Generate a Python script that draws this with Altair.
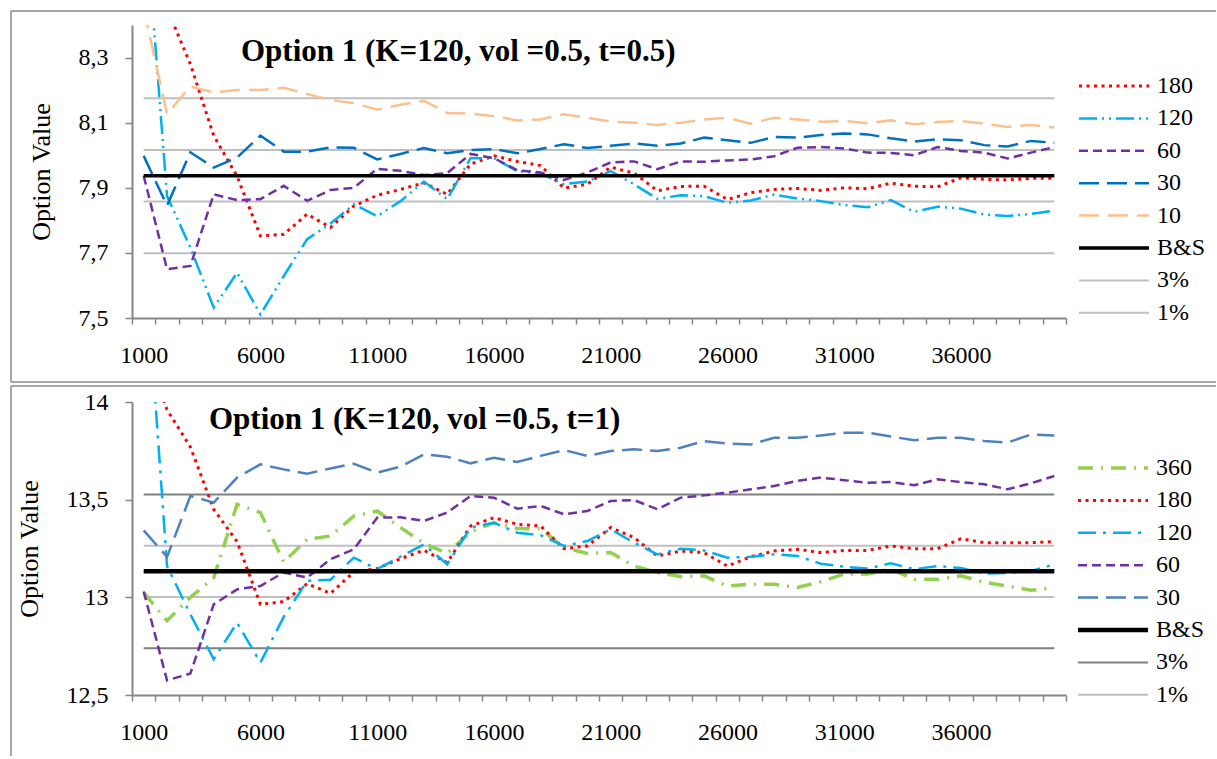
import altair as alt
import pandas as pd

# Number of simulations (x categories)
N = [1000 * k for k in range(1, 41)]

FONT = "Liberation Serif"

# ---------------- Option 1 (K=120, vol=0.5, t=0.5) ----------------
top_series = ["180", "120", "60", "30", "10", "B&S", "3%", "1%"]
top_colors = ["#FF0000", "#00B0F0", "#7030A0", "#0070C0", "#FAC090", "#000000", "#BFBFBF", "#BFBFBF"]
top_dashes = [[3, 4.5], [18, 5, 2, 5, 2, 5], [9, 5], [20, 8], [20, 9], [1, 0], [1, 0], [1, 0]]
top_widths = [3, 2.5, 2.5, 2.5, 2.5, 3.5, 2, 2]

top_180 = [8.75, 8.45, 8.28, 8.06, 7.935, 7.752, 7.757, 7.819, 7.778, 7.844,
           7.877, 7.895, 7.915, 7.88, 7.973, 7.998, 7.981, 7.968, 7.899, 7.911,
           7.963, 7.945, 7.891, 7.904, 7.905, 7.864, 7.885, 7.895, 7.898, 7.892,
           7.9, 7.897, 7.914, 7.905, 7.903, 7.931, 7.926, 7.924, 7.929, 7.929]
top_120 = [8.8, 7.875, 7.716, 7.532, 7.639, 7.511, 7.629, 7.742, 7.79, 7.849,
           7.813, 7.859, 7.919, 7.865, 7.991, 7.991, 7.951, 7.944, 7.911, 7.919,
           7.951, 7.911, 7.866, 7.877, 7.874, 7.854, 7.861, 7.879, 7.867, 7.859,
           7.847, 7.84, 7.862, 7.826, 7.842, 7.836, 7.818, 7.813, 7.82, 7.83]
top_60 = [7.937, 7.65, 7.66, 7.88, 7.862, 7.865, 7.906, 7.86, 7.893, 7.9,
          7.958, 7.952, 7.939, 7.945, 8.004, 7.991, 7.954, 7.947, 7.924, 7.947,
          7.978, 7.981, 7.957, 7.981, 7.98, 7.984, 7.987, 7.997, 8.023, 8.025,
          8.021, 8.008, 8.007, 8.0, 8.025, 8.013, 8.008, 7.99, 8.008, 8.025]
top_30 = [7.998, 7.845, 8.009, 7.962, 7.993, 8.06, 8.011, 8.011, 8.024, 8.023,
          7.987, 8.004, 8.022, 8.006, 8.016, 8.019, 8.006, 8.019, 8.034, 8.022,
          8.029, 8.036, 8.029, 8.036, 8.054, 8.046, 8.038, 8.056, 8.054, 8.062,
          8.067, 8.064, 8.052, 8.042, 8.049, 8.046, 8.031, 8.027, 8.044, 8.038]
top_10 = [8.45, 8.127, 8.211, 8.193, 8.2, 8.2, 8.207, 8.188, 8.17, 8.16,
          8.14, 8.155, 8.167, 8.13, 8.128, 8.12, 8.107, 8.11, 8.126, 8.115,
          8.103, 8.1, 8.093, 8.1, 8.11, 8.115, 8.097, 8.115, 8.11, 8.103,
          8.105, 8.098, 8.107, 8.095, 8.102, 8.105, 8.097, 8.087, 8.093, 8.085]
top_bs = 7.937

# ---------------- Option 1 (K=120, vol=0.5, t=1) ----------------
bot_series = ["360", "180", "120", "60", "30", "B&S", "3%", "1%"]
bot_colors = ["#92D050", "#FF0000", "#00B0F0", "#7030A0", "#4F81BD", "#000000", "#808080", "#C0C0C0"]
bot_dashes = [[15, 8, 2, 8], [3, 4.5], [18, 7, 3, 7], [9, 5], [20, 8], [1, 0], [1, 0], [1, 0]]
bot_widths = [3.5, 3, 2.5, 2.5, 2.5, 4.5, 2, 2]

bot_360 = [13.024, 12.88, 13.0, 13.1, 13.476, 13.434, 13.18, 13.297, 13.314, 13.416,
           13.442, 13.357, 13.277, 13.225, 13.335, 13.382, 13.352, 13.351, 13.254, 13.225,
           13.229, 13.16, 13.127, 13.106, 13.11, 13.058, 13.067, 13.067, 13.05, 13.08,
           13.12, 13.12, 13.145, 13.092, 13.092, 13.11, 13.077, 13.058, 13.036, 13.05]
bot_180 = [14.3, 13.96, 13.77, 13.45, 13.285, 12.964, 12.978, 13.07, 13.02, 13.13,
           13.147, 13.198, 13.241, 13.178, 13.365, 13.408, 13.374, 13.365, 13.249, 13.263,
           13.357, 13.306, 13.212, 13.237, 13.229, 13.16, 13.208, 13.237, 13.246, 13.229,
           13.24, 13.24, 13.263, 13.249, 13.249, 13.3, 13.28, 13.28, 13.28, 13.285]
bot_120 = [14.85, 13.16, 12.913, 12.683, 12.87, 12.666, 12.9, 13.084, 13.09, 13.203,
           13.144, 13.208, 13.271, 13.169, 13.357, 13.382, 13.331, 13.318, 13.263, 13.288,
           13.348, 13.28, 13.22, 13.249, 13.24, 13.203, 13.208, 13.22, 13.212, 13.172,
           13.157, 13.147, 13.174, 13.144, 13.16, 13.15, 13.122, 13.125, 13.135, 13.169]
bot_60 = [13.03, 12.575, 12.61, 12.964, 13.041, 13.058, 13.127, 13.101, 13.195, 13.246,
          13.408, 13.41, 13.391, 13.434, 13.519, 13.51, 13.454, 13.468, 13.425, 13.442,
          13.493, 13.498, 13.451, 13.51, 13.522, 13.536, 13.553, 13.57, 13.596, 13.613,
          13.6, 13.587, 13.59, 13.574, 13.604, 13.59, 13.579, 13.553, 13.584, 13.621]
bot_30 = [13.343, 13.207, 13.519, 13.485, 13.613, 13.681, 13.655, 13.633, 13.66, 13.684,
          13.638, 13.669, 13.732, 13.72, 13.686, 13.715, 13.693, 13.724, 13.754, 13.724,
          13.749, 13.758, 13.749, 13.766, 13.8, 13.788, 13.783, 13.817, 13.817, 13.829,
          13.843, 13.843, 13.823, 13.804, 13.817, 13.817, 13.8, 13.792, 13.834, 13.829]
bot_bs = 13.133


def long_frame(named, bs):
    rows = []
    for name, vals in named:
        for n, v in zip(N, vals):
            rows.append({"n": n, "value": v, "series": name, "part": name})
    for n in N:
        rows.append({"n": n, "value": bs, "series": "B&S", "part": "B&S"})
    # +/- 3 % and 1 % bands around the Black & Scholes price
    for name, pct in (("3%", 0.03), ("1%", 0.01)):
        for sign, tag in ((1, "+"), (-1, "-")):
            for n in N:
                rows.append({"n": n, "value": bs * (1 + sign * pct), "series": name, "part": name + tag})
    return pd.DataFrame(rows)


top_df = long_frame([("180", top_180), ("120", top_120), ("60", top_60),
                     ("30", top_30), ("10", top_10)], top_bs)
bot_df = long_frame([("360", bot_360), ("180", bot_180), ("120", bot_120),
                     ("60", bot_60), ("30", bot_30)], bot_bs)

PLOT_W = 934
PLOT_H = 293
AXIS_GREY = "#868686"
FRAME_GREY = "#8A8A8A"


def panel(df, series, colors, dashes, widths, y_domain, y_values, y_fmt,
          title_text, title_pos, legend_pos, frame_top, frame_bottom, left_end):
    x_axis = alt.Axis(
        values=[500 + 1000 * k for k in range(41)],
        labelExpr="(datum.value - 500) % 5000 == 0 && datum.value < 40000 ? format(datum.value + 500, 'd') : ''",
        labelOffset=PLOT_W / 80,
        labelFlush=False, labelOverlap=False, labelBound=False,
        tickSize=6, labelPadding=19, title=None, grid=False,
        labelFont=FONT, labelFontSize=24, labelColor="black",
    )
    y_axis = alt.Axis(
        values=y_values, format=y_fmt,
        labelExpr="replace(datum.label, '.', ',')",
        tickSize=7, labelPadding=17, grid=False,
        labelFont=FONT, labelFontSize=24, labelColor="black",
        title="Option Value", titleFont=FONT, titleFontSize=26,
        titleFontWeight="normal", titleColor="black", titlePadding=24,
    )
    legend = alt.Legend(
        title=None, orient="none", legendX=legend_pos[0], legendY=legend_pos[1],
        symbolType="M-1.714,0H8.286", symbolSize=196, labelOffset=54,
        labelFont=FONT, labelFontSize=24, labelColor="black", labelLimit=0,
        rowPadding=8.4, padding=0,
    )
    enc = dict(
        x=alt.X("n:Q", scale=alt.Scale(domain=[500, 40500], nice=False, zero=False), axis=x_axis),
        y=alt.Y("value:Q", scale=alt.Scale(domain=y_domain, nice=False, zero=False), axis=y_axis),
        color=alt.Color("series:O", scale=alt.Scale(type="ordinal", domain=series, range=colors), legend=legend),
        strokeDash=alt.StrokeDash("series:O", scale=alt.Scale(type="ordinal", domain=series, range=dashes), legend=legend),
        strokeWidth=alt.StrokeWidth("series:O", scale=alt.Scale(type="ordinal", domain=series, range=widths), legend=legend),
        detail="part:N",
    )
    base = alt.Chart(df).mark_line(clip=True, strokeCap="butt").encode(**enc)
    bands = base.transform_filter(alt.FieldOneOfPredicate(field="series", oneOf=["3%", "1%"]))
    sims = base.transform_filter(alt.FieldOneOfPredicate(field="series", oneOf=series[:5]))
    bs_line = base.transform_filter(alt.FieldEqualPredicate(field="series", equal="B&S"))

    one = pd.DataFrame({"t": [title_text]})
    title = alt.Chart(one).mark_text(
        font=FONT, fontSize=31, fontWeight="bold", align="left",
        baseline="alphabetic", color="black",
    ).encode(text="t:N", x=alt.value(title_pos[0]), y=alt.value(title_pos[1]))

    frame_layers = [
        alt.Chart(one).mark_rule(color=FRAME_GREY, strokeWidth=1.5).encode(
            x=alt.value(-121), x2=alt.value(1084), y=alt.value(frame_top)),
        alt.Chart(one).mark_rule(color=FRAME_GREY, strokeWidth=1.5).encode(
            x=alt.value(-121), y=alt.value(frame_top), y2=alt.value(left_end)),
    ]
    if frame_bottom is not None:
        frame_layers.append(
            alt.Chart(one).mark_rule(color=FRAME_GREY, strokeWidth=1.5).encode(
                x=alt.value(-121), x2=alt.value(1084), y=alt.value(frame_bottom)))

    return alt.layer(bands, sims, bs_line, title, *frame_layers).properties(
        width=PLOT_W, height=PLOT_H)


top = panel(top_df, top_series, top_colors, top_dashes, top_widths,
            [7.5, 8.4], [7.5, 7.7, 7.9, 8.1, 8.3], ".1f",
            "Option 1 (K=120, vol =0.5, t=0.5)", (109, 36), (947, 49),
            -14, 357, 357)
bottom = panel(bot_df, bot_series, bot_colors, bot_dashes, bot_widths,
               [12.5, 14], [12.5, 13, 13.5, 14], ".1~f",
               "Option 1 (K=120, vol =0.5, t=1)", (77, 27), (946, 54),
               -16, None, 354)

chart = alt.vconcat(top, bottom, spacing=2).resolve_scale(
    color="independent", strokeDash="independent", strokeWidth="independent",
    y="independent",
).resolve_legend(
    color="independent", strokeDash="independent", strokeWidth="independent",
).properties(
    padding={"left": 10, "top": 10, "right": 0, "bottom": 0},
    background="white",
).configure_view(stroke=None).configure_axis(
    domainColor=AXIS_GREY, tickColor=AXIS_GREY, domainWidth=2, tickWidth=1.5,
)

chart.save("out.html", embed_options={"renderer": "svg", "actions": False})
